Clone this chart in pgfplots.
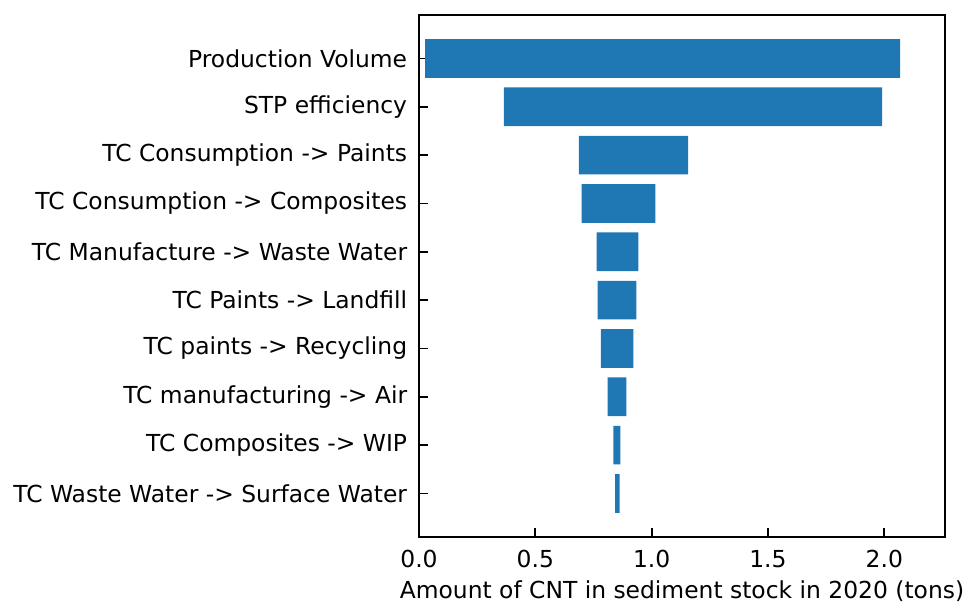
\documentclass[border=0pt]{standalone}
\usepackage{fontspec}
\setmainfont{DejaVu Sans}
\usepackage{pgfplots}
\usepackage{pgfplotstable}
\pgfplotsset{compat=1.18}
\definecolor{mplblue}{HTML}{1F77B4}
\pgfplotstableread{
y low len
9 0.026 2.042
8 0.365 1.626
7 0.687 0.470
6 0.699 0.317
5 0.764 0.179
4 0.768 0.166
3 0.782 0.139
2 0.811 0.080
1 0.836 0.030
0 0.843 0.019
}\tornado
\begin{document}
\begin{tikzpicture}
\useasboundingbox (-209.5pt,-33pt) rectangle (279.5pt,268.5pt);
\begin{axis}[
  at={(0,0)}, anchor=south west,
  scale only axis, width=263pt, height=261pt,
  xmin=0, xmax=2.261, ymin=-0.9, ymax=9.9,
  xbar stacked, bar width=0.8,
  xtick={0,0.5,1,1.5,2},
  /pgf/number format/.cd, fixed, fixed zerofill, precision=1, assume math mode=true,
  /pgfplots/.cd,
  ytick={0,1,2,3,4,5,6,7,8,9},
  yticklabels={{TC Waste Water -> Surface Water},{TC Composites -> WIP},{TC manufacturing -> Air},{TC paints -> Recycling},{TC Paints -> Landfill},{TC Manufacture -> Waste Water},{TC Consumption -> Composites},{TC Consumption -> Paints},{STP efficiency},{Production Volume}},
  tick align=inside, xtick pos=lower, ytick pos=left,
  major tick length=4.5pt,
  tick style={line width=0.9pt, black},
  axis line style={line width=0.9pt},
  every tick label/.append style={font=\fontsize{11.7}{14}\selectfont},
  yticklabel style={anchor=east, inner sep=0pt, xshift=-5.75pt},
  xticklabel style={anchor=north, inner sep=0pt, yshift=-6.5pt},
  xlabel={Amount of CNT in sediment stock in 2020 (tons)},
  xlabel style={font=\fontsize{11.7}{14}\selectfont, at={(axis description cs:0.5,0)}, anchor=base, inner sep=0pt, yshift=-31pt},
]
\addplot[draw=none, fill=none, forget plot] table[x=low, y=y] {\tornado};
\addplot[draw=none, fill=mplblue] table[x=len, y=y] {\tornado};
\end{axis}
\end{tikzpicture}
\end{document}
